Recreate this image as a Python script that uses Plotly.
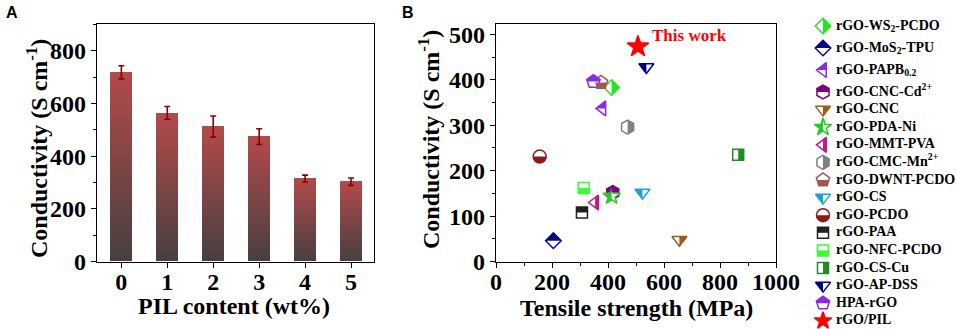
import math
import plotly.graph_objects as go

# ---------------- Panel A data ----------------
pil_content = [0, 1, 2, 3, 4, 5]
conductivity_a = [718, 564, 512, 474, 315, 303]
conductivity_a_err = [25, 24, 40, 30, 13, 14]

# ---------------- Panel B data ----------------
materials = ["rGO-WS<sub>2</sub>-PCDO", "rGO-MoS<sub>2</sub>-TPU", "rGO-PAPB<sub>0.2</sub>",
             "rGO-CNC-Cd<sup>2+</sup>", "rGO-CNC", "rGO-PDA-Ni", "rGO-MMT-PVA",
             "rGO-CMC-Mn<sup>2+</sup>", "rGO-DWNT-PCDO", "rGO-CS", "rGO-PCDO", "rGO-PAA",
             "rGO-NFC-PCDO", "rGO-CS-Cu", "rGO-AP-DSS", "HPA-rGO", "rGO/PIL"]
tensile_strength = [413, 205, 380, 417, 655, 413, 354, 470, 375, 523, 156, 307, 313, 865, 537, 348, 507]
conductivity_b = [383, 46, 337, 152, 48, 144, 130, 296, 394, 152, 231, 108, 162, 235, 428, 396, 473]

# ---------------- styles ----------------
symbols = ["diamond", "diamond", "triangle-left", "hexagon", "triangle-down", "star", "triangle-left",
           "hexagon", "pentagon", "triangle-down", "circle", "square", "square", "square",
           "triangle-down", "pentagon", "star"]
colors = ["#22E622", "#0A0A80", "#8A2BE2", "#800080", "#9C5B1A", "#22CC22", "#C71585",
          "#808080", "#9E5A50", "#1EA0D8", "#8B1A1A", "#222222", "#33FF33", "#228B22",
          "#000080", "#8A2BE2", "#FF0000"]
halves = ["right", "top", "top", "top", "right", "left", "right", "right", "bottom", "left",
          "bottom", "top", "bottom", "right", "left", "top", "full"]
sizes = {"diamond": 12, "square": 11, "circle": 13, "triangle-left": 13, "triangle-down": 13,
         "hexagon": 14, "pentagon": 14, "star": 13}

W, H = 957, 329
FONT = "Liberation Serif"
ydom = [1 - 261.6 / H, 1 - 24.3 / H]


def marker_poly(sym, size):
    r = size / 2.0
    if sym == "diamond":
        d = 1.3 * r
        return [(d, 0), (0, d), (-d, 0), (0, -d)]
    if sym == "square":
        return [(r, r), (-r, r), (-r, -r), (r, -r)]
    if sym == "circle":
        return [(r * math.cos(2 * math.pi * i / 48), r * math.sin(2 * math.pi * i / 48)) for i in range(48)]
    if sym == "triangle-down":
        rt, r2 = r * 2 / math.sqrt(3), r / 2
        return [(-rt, -r2), (rt, -r2), (0, r)]
    if sym == "triangle-left":
        rt, r2 = r * 2 / math.sqrt(3), r / 2
        return [(r2, -rt), (r2, rt), (-r, 0)]
    if sym == "hexagon":
        y1, y2 = r / 2, r * math.sqrt(3) / 2
        return [(y2, y1), (y2, -y1), (0, -r), (-y2, -y1), (-y2, y1), (0, r)]
    if sym == "pentagon":
        x1, x2, y0, y1, y2 = r * 0.951, r * 0.588, -r, -0.309 * r, 0.809 * r
        return [(x1, y1), (x2, y2), (-x2, y2), (-x1, y1), (0, y0)]
    if sym == "star":
        rs = r * 1.4
        x1, x2, x3, x4 = rs * 0.225, rs * 0.951, rs * 0.363, rs * 0.588
        y0, y1, y3, y4, y5 = -rs, -0.309 * rs, 0.118 * rs, 0.809 * rs, 0.382 * rs
        return [(x1, y1), (x2, y1), (x3, y3), (x4, y4), (0, y5), (-x4, y4), (-x3, y3),
                (-x2, y1), (-x1, y1), (0, y0)]
    return []


def clip(pts, side):
    f = {"top": lambda p: -p[1], "bottom": lambda p: p[1],
         "left": lambda p: -p[0], "right": lambda p: p[0]}[side]
    out = []
    n = len(pts)
    for i in range(n):
        a, b = pts[i], pts[(i + 1) % n]
        fa, fb = f(a), f(b)
        if fa >= 0:
            out.append(a)
        if (fa >= 0) != (fb >= 0):
            t = fa / (fa - fb)
            out.append((a[0] + t * (b[0] - a[0]), a[1] + t * (b[1] - a[1])))
    return out


def svg_path(pts):
    return "M " + " L ".join(f"{x:.2f},{-y:.2f}" for x, y in pts) + " Z"


def half_shapes(xs, ys, xref, yref, scale):
    shp = []
    for xv, yv, sym, col, half in zip(xs, ys, symbols, colors, halves):
        if half == "full":
            continue
        pts = clip(marker_poly(sym, sizes[sym] * scale), half)
        shp.append(dict(type="path", xref=xref, yref=yref, xsizemode="pixel", ysizemode="pixel",
                        xanchor=xv, yanchor=yv, path=svg_path(pts), fillcolor=col,
                        line=dict(width=0), layer="above"))
    return shp


fig = go.Figure()

# ---- Panel A: gradient bars (overlaid, decreasing heights) ----
N = 40
top_c = (178, 74, 74)
bot_c = (72, 64, 64)
for k in range(N):
    t = k / (N - 1)
    c = tuple(int(round(top_c[j] + (bot_c[j] - top_c[j]) * t)) for j in range(3))
    fig.add_trace(go.Bar(
        x=pil_content, y=[v * (N - k) / N for v in conductivity_a],
        width=0.48, marker=dict(color=f"rgb{c}", line=dict(width=0)),
        xaxis="x", yaxis="y", showlegend=False, hoverinfo="skip"))
fig.add_trace(go.Scatter(
    x=pil_content, y=conductivity_a, mode="markers",
    marker=dict(size=1, color="rgba(0,0,0,0)"),
    error_y=dict(type="data", array=conductivity_a_err, color="#8B0000", thickness=1.6, width=3),
    xaxis="x", yaxis="y", showlegend=False))

# ---- Panel B scatter ----
mk_fill = ["white" if h != "full" else c for h, c in zip(halves, colors)]
fig.add_trace(go.Scatter(
    x=tensile_strength, y=conductivity_b, mode="markers",
    marker=dict(symbol=symbols,
                size=[sizes[s] if h != "full" else 16 for s, h in zip(symbols, halves)],
                color=mk_fill, opacity=1, line=dict(color=colors, width=1.5)),
    text=materials, xaxis="x2", yaxis="y2", showlegend=False))

# ---- custom legend ----
leg_y = []
yy = 26.0
for i, name in enumerate(materials):
    if i > 0:
        yy += 22.0 if "<sub>" in materials[i - 1] else 17.6
    leg_y.append(yy)
leg_scale = 1.0
fig.add_trace(go.Scatter(
    x=[823] * len(materials), y=leg_y, mode="markers",
    marker=dict(symbol=symbols, size=[sizes[s] * leg_scale for s in symbols], color=mk_fill,
                opacity=1, line=dict(color=colors, width=1.5)),
    xaxis="x3", yaxis="y3", showlegend=False, hoverinfo="skip"))
fig.add_trace(go.Scatter(
    x=[836] * len(materials), y=leg_y, mode="text", text=materials,
    textposition="middle right",
    textfont=dict(family=FONT, size=14, color="black", weight="bold"),
    xaxis="x3", yaxis="y3", showlegend=False, hoverinfo="skip"))

shapes = half_shapes(tensile_strength, conductivity_b, "x2", "y2", 1.0)
shapes += half_shapes([823] * len(materials), leg_y, "x3", "y3", leg_scale)

tickfont = dict(family=FONT, size=24, color="black", weight="bold")
axis_common = dict(showline=True, linecolor="black", linewidth=1.3, mirror=True,
                   ticks="outside", ticklen=5, tickwidth=1.3, tickcolor="black",
                   showgrid=False, zeroline=False, tickfont=tickfont, automargin=False)
minor_common = dict(ticklen=3, ticks="outside", tickcolor="black", tickwidth=1.3)

fig.update_layout(
    width=W, height=H, margin=dict(l=0, r=0, t=0, b=0, autoexpand=False),
    paper_bgcolor="white", plot_bgcolor="white",
    barmode="overlay", bargap=0,
    font=dict(family=FONT, color="black"),
    xaxis=dict(domain=[97 / W, 374 / W], range=[-0.53, 5.5], tickvals=pil_content,
               anchor="y", ticklabelstandoff=-7, **axis_common),
    yaxis=dict(domain=ydom, range=[0, 900], dtick=200, anchor="x",
               minor=dict(dtick=100, **minor_common), **axis_common),
    xaxis2=dict(domain=[496 / W, 776 / W], range=[0, 1000], dtick=200, anchor="y2",
                ticklabelstandoff=-7, minor=dict(dtick=100, **minor_common), **axis_common),
    yaxis2=dict(domain=ydom, range=[0, 522], dtick=100, anchor="x2",
                minor=dict(dtick=50, **minor_common), **axis_common),
    xaxis3=dict(domain=[804 / W, 1], range=[804, 957], visible=False, anchor="y3", automargin=False),
    yaxis3=dict(domain=[0, 1], range=[329, 0], visible=False, anchor="x3", automargin=False),
    shapes=shapes,
)

title_font = dict(family=FONT, size=24, color="black", weight="bold")
ann = [
    dict(text="Conductivity (S cm<sup>-1</sup>)", x=37 / W, y=1 - 149 / H, textangle=-90,
         font=title_font),
    dict(text="PIL content (wt%)", x=234 / W, y=1 - 306 / H, font=title_font),
    dict(text="Conductivity (S cm<sup>-1</sup>)", x=429 / W, y=1 - 140 / H, textangle=-90,
         font=title_font),
    dict(text="Tensile strength (MPa)", x=636 / W, y=1 - 308 / H, font=title_font),
    dict(text="A", x=12 / W, y=1 - 13 / H, font=dict(family="Liberation Sans", size=16,
                                                     color="black", weight="bold")),
    dict(text="B", x=408 / W, y=1 - 13 / H, font=dict(family="Liberation Sans", size=16,
                                                      color="black", weight="bold")),
]
for a in ann:
    a.update(xref="paper", yref="paper", showarrow=False, xanchor="center", yanchor="middle")
    fig.add_annotation(**a)
fig.add_annotation(text="This work", x=551, y=497, xref="x2", yref="y2", showarrow=False,
                   xanchor="left", yanchor="middle",
                   font=dict(family=FONT, size=17, color="#FF0000", weight="bold"))

fig.write_html("out.html", config={"displayModeBar": False},
               post_script="document.body.style.margin='0';document.body.style.overflow='hidden';")
